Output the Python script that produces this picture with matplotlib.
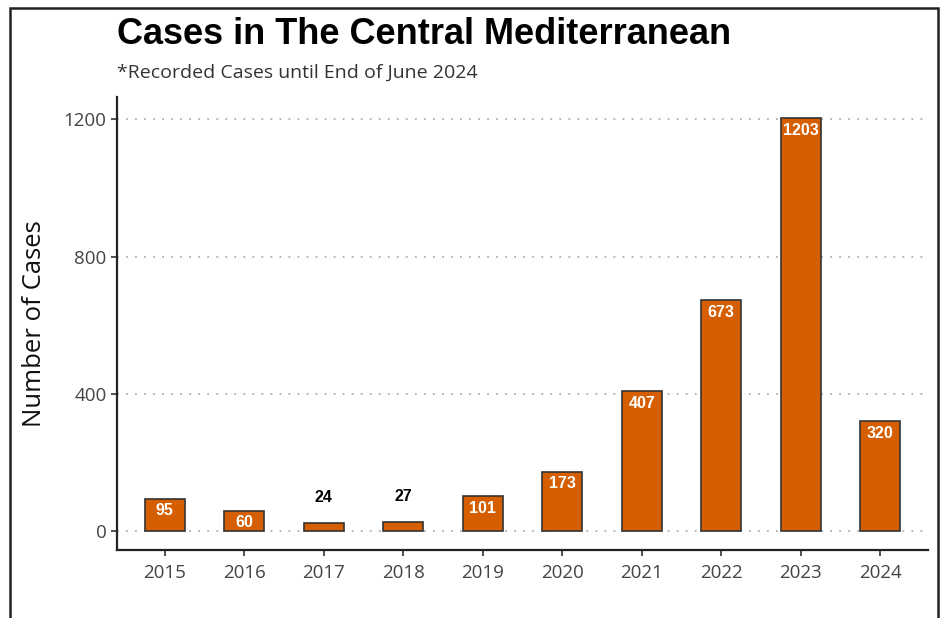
import matplotlib.pyplot as plt
import matplotlib.patches as mpatches
import numpy as np

years = ['2015', '2016', '2017', '2018', '2019', '2020', '2021', '2022', '2023', '2024']
cases = [95, 60, 24, 27, 101, 173, 407, 673, 1203, 320]

bar_color = '#D55E00'
plt.rcParams['font.family'] = ['Open Sans', 'DejaVu Sans']

fig = plt.figure(figsize=(9.47, 6.18), dpi=100)
ax = fig.add_axes([117/947, 1 - 550/618, (928-117)/947, (550-97)/618])

x = np.arange(len(years))
ax.bar(x, cases, width=0.5, color=bar_color, edgecolor='#333333', linewidth=1.2, zorder=3)

# etiquetas: dentro si la barra es alta, encima si es baja
for xi, v in zip(x, cases):
    if v < 50:
        ax.text(xi, v + 75, str(v), ha='center', va='center', color='black',
                fontsize=11.5, fontweight='bold', family=['Liberation Sans', 'DejaVu Sans'])
    else:
        ax.text(xi, v - 35, str(v), ha='center', va='center', color='white',
                fontsize=11.5, fontweight='bold', family=['Liberation Sans', 'DejaVu Sans'])

ax.set_xlim(-0.6, 9.6)
ax.set_ylim(-55, 1265)
ax.set_xticks(x)
ax.set_xticklabels(years)
ax.set_yticks([0, 400, 800, 1200])
ax.tick_params(axis='both', labelsize=13.5, colors='#333333', length=4, width=1.2)
ax.tick_params(axis='both', labelcolor='#444444')
ax.tick_params(axis='x', pad=6)

ax.yaxis.grid(True, linestyle=(0, (1, 4)), color='#b0b0b0', linewidth=1.3, zorder=0)
for s in ['top', 'right']:
    ax.spines[s].set_visible(False)
for s in ['left', 'bottom']:
    ax.spines[s].set_color('#222222')
    ax.spines[s].set_linewidth(1.6)

ax.set_ylabel('Number of Cases', fontsize=18.5, fontweight='medium', color='#111111', labelpad=12)

fig.text(117/947, 1 - 34/618, 'Cases in The Central Mediterranean', fontsize=26, fontweight='bold',
         family=['Liberation Sans', 'DejaVu Sans'], va='center', ha='left')
fig.text(117/947, 1 - 73/618, '*Recorded Cases until End of June 2024', fontsize=14, color='#333333',
         va='center', ha='left')

# marco de la imagen
frame = mpatches.Rectangle((10/947, -0.05), (938-10)/947, 1 - 8/618 + 0.05, transform=fig.transFigure,
                           fill=False, edgecolor='#222222', linewidth=1.8)
fig.patches.append(frame)

fig.savefig('out.png', dpi=100)
